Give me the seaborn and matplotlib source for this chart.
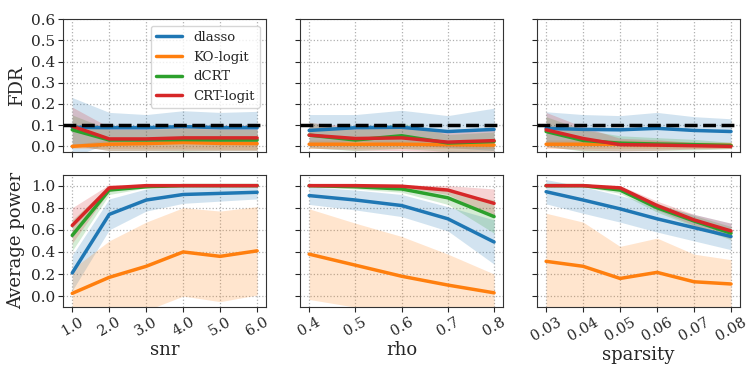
import numpy as np
import pandas as pd
import matplotlib
matplotlib.use("Agg")
import matplotlib.pyplot as plt
import seaborn as sns

methods = ["dlasso", "KO-logit", "dCRT", "CRT-logit"]

snr = [1.0, 2.0, 3.0, 4.0, 5.0, 6.0]
rho = [0.4, 0.5, 0.6, 0.7, 0.8]
sparsity = [0.03, 0.04, 0.05, 0.06, 0.07, 0.08]

# FDR: mean and standard deviation per method
fdr_snr = {
    "dlasso":    [0.090, 0.088, 0.088, 0.093, 0.088, 0.088],
    "KO-logit":  [0.000, 0.010, 0.013, 0.018, 0.014, 0.013],
    "dCRT":      [0.078, 0.030, 0.030, 0.032, 0.030, 0.030],
    "CRT-logit": [0.095, 0.035, 0.035, 0.040, 0.040, 0.040],
}
fdr_snr_sd = {
    "dlasso":    [0.140, 0.072, 0.062, 0.075, 0.072, 0.077],
    "KO-logit":  [0.010, 0.020, 0.025, 0.030, 0.028, 0.028],
    "dCRT":      [0.070, 0.050, 0.050, 0.055, 0.050, 0.050],
    "CRT-logit": [0.090, 0.055, 0.055, 0.060, 0.060, 0.060],
}
fdr_rho = {
    "dlasso":    [0.075, 0.088, 0.090, 0.070, 0.080],
    "KO-logit":  [0.010, 0.010, 0.010, 0.008, 0.006],
    "dCRT":      [0.053, 0.030, 0.050, 0.016, 0.023],
    "CRT-logit": [0.053, 0.037, 0.040, 0.020, 0.027],
}
fdr_rho_sd = {
    "dlasso":    [0.075, 0.062, 0.080, 0.075, 0.100],
    "KO-logit":  [0.020, 0.020, 0.020, 0.018, 0.016],
    "dCRT":      [0.060, 0.050, 0.060, 0.040, 0.045],
    "CRT-logit": [0.060, 0.055, 0.060, 0.045, 0.050],
}
fdr_sparsity = {
    "dlasso":    [0.085, 0.080, 0.078, 0.085, 0.075, 0.070],
    "KO-logit":  [0.010, 0.010, 0.010, 0.008, 0.006, 0.005],
    "dCRT":      [0.070, 0.028, 0.015, 0.011, 0.008, 0.004],
    "CRT-logit": [0.078, 0.037, 0.008, 0.006, 0.003, 0.000],
}
fdr_sparsity_sd = {
    "dlasso":    [0.078, 0.070, 0.067, 0.075, 0.065, 0.060],
    "KO-logit":  [0.020, 0.020, 0.020, 0.018, 0.016, 0.015],
    "dCRT":      [0.070, 0.050, 0.035, 0.030, 0.025, 0.015],
    "CRT-logit": [0.082, 0.055, 0.030, 0.025, 0.015, 0.010],
}

# Average power: mean and standard deviation per method
pow_snr = {
    "dlasso":    [0.21, 0.74, 0.87, 0.92, 0.93, 0.94],
    "KO-logit":  [0.025, 0.17, 0.27, 0.40, 0.36, 0.41],
    "dCRT":      [0.55, 0.96, 0.99, 1.00, 1.00, 1.00],
    "CRT-logit": [0.64, 0.98, 1.00, 1.00, 1.00, 1.00],
}
pow_snr_sd = {
    "dlasso":    [0.16, 0.14, 0.10, 0.08, 0.07, 0.06],
    "KO-logit":  [0.22, 0.33, 0.40, 0.40, 0.41, 0.40],
    "dCRT":      [0.14, 0.04, 0.01, 0.00, 0.00, 0.00],
    "CRT-logit": [0.16, 0.03, 0.00, 0.00, 0.00, 0.00],
}
pow_rho = {
    "dlasso":    [0.91, 0.87, 0.82, 0.70, 0.49],
    "KO-logit":  [0.38, 0.28, 0.18, 0.10, 0.03],
    "dCRT":      [1.00, 0.99, 0.97, 0.89, 0.72],
    "CRT-logit": [1.00, 1.00, 0.995, 0.96, 0.84],
}
pow_rho_sd = {
    "dlasso":    [0.08, 0.09, 0.10, 0.11, 0.20],
    "KO-logit":  [0.41, 0.38, 0.36, 0.28, 0.17],
    "dCRT":      [0.01, 0.02, 0.03, 0.06, 0.15],
    "CRT-logit": [0.00, 0.00, 0.01, 0.04, 0.13],
}
pow_sparsity = {
    "dlasso":    [0.945, 0.87, 0.79, 0.70, 0.62, 0.54],
    "KO-logit":  [0.315, 0.27, 0.16, 0.215, 0.13, 0.11],
    "dCRT":      [1.00, 1.00, 0.96, 0.80, 0.68, 0.57],
    "CRT-logit": [1.00, 1.00, 0.98, 0.82, 0.69, 0.59],
}
pow_sparsity_sd = {
    "dlasso":    [0.11, 0.12, 0.12, 0.12, 0.12, 0.12],
    "KO-logit":  [0.435, 0.40, 0.29, 0.31, 0.25, 0.22],
    "dCRT":      [0.01, 0.01, 0.03, 0.04, 0.05, 0.06],
    "CRT-logit": [0.00, 0.00, 0.02, 0.04, 0.05, 0.07],
}

fdr_target = 0.1

sns.set_style("ticks")
plt.rcParams["font.family"] = ["DejaVu Serif"]
palette = dict(zip(methods, sns.color_palette("tab10", 4)))


def to_frame(x, means, sds):
    rows = []
    for m in methods:
        for xi, mu, sd in zip(x, means[m], sds[m]):
            rows.append({"x": xi, "value": mu, "sd": sd, "method": m})
    return pd.DataFrame(rows)


def draw(ax, x, means, sds, legend=False):
    df = to_frame(x, means, sds)
    sns.lineplot(data=df, x="x", y="value", hue="method", hue_order=methods,
                 palette=palette, linewidth=2.5, ax=ax, legend=legend)
    for m in methods:
        sub = df[df["method"] == m]
        ax.fill_between(sub["x"], sub["value"] - sub["sd"], sub["value"] + sub["sd"],
                        color=palette[m], alpha=0.2, linewidth=0)


fig, axes = plt.subplots(2, 3, figsize=(7.5, 3.67), dpi=100, sharex="col", sharey="row")
fig.subplots_adjust(left=0.084, right=0.987, top=0.948, bottom=0.163,
                    wspace=0.165, hspace=0.173)

panels = [
    (snr, fdr_snr, fdr_snr_sd, pow_snr, pow_snr_sd, "snr", "{:.1f}"),
    (rho, fdr_rho, fdr_rho_sd, pow_rho, pow_rho_sd, "rho", "{:.1f}"),
    (sparsity, fdr_sparsity, fdr_sparsity_sd, pow_sparsity, pow_sparsity_sd, "sparsity", "{:.2f}"),
]

for j, (x, fm, fs, pm, ps, name, fmt) in enumerate(panels):
    top, bot = axes[0, j], axes[1, j]
    draw(top, x, fm, fs, legend=(j == 0))
    top.axhline(fdr_target, color="black", linestyle="--", linewidth=2.5, zorder=5)
    draw(bot, x, pm, ps)
    for ax in (top, bot):
        ax.grid(True, linestyle=":", color="#b0b0b0", linewidth=0.9)
        for s in ax.spines.values():
            s.set_visible(True)
            s.set_color("#333333")
        ax.set_ylabel("")
        ax.set_xlabel("")
        ax.tick_params(labelsize=11, pad=2)
    bot.set_xticks(x)
    bot.set_xticklabels([fmt.format(v) for v in x], rotation=30, fontsize=10.5)
    bot.set_xlabel(name, fontsize=13, labelpad=2)

axes[0, 0].set_ylim(-0.025, 0.6)
axes[0, 0].set_yticks([0.0, 0.1, 0.2, 0.3, 0.4, 0.5, 0.6])
axes[1, 0].set_ylim(-0.1, 1.1)
axes[1, 0].set_yticks([0.0, 0.2, 0.4, 0.6, 0.8, 1.0])
axes[0, 0].set_ylabel("FDR", fontsize=13)
axes[1, 0].set_ylabel("Average power", fontsize=13)

leg = axes[0, 0].legend(loc="upper right", fontsize=9.5, handlelength=2.0)
leg.set_title(None)

fig.savefig("out.png", dpi=100)
